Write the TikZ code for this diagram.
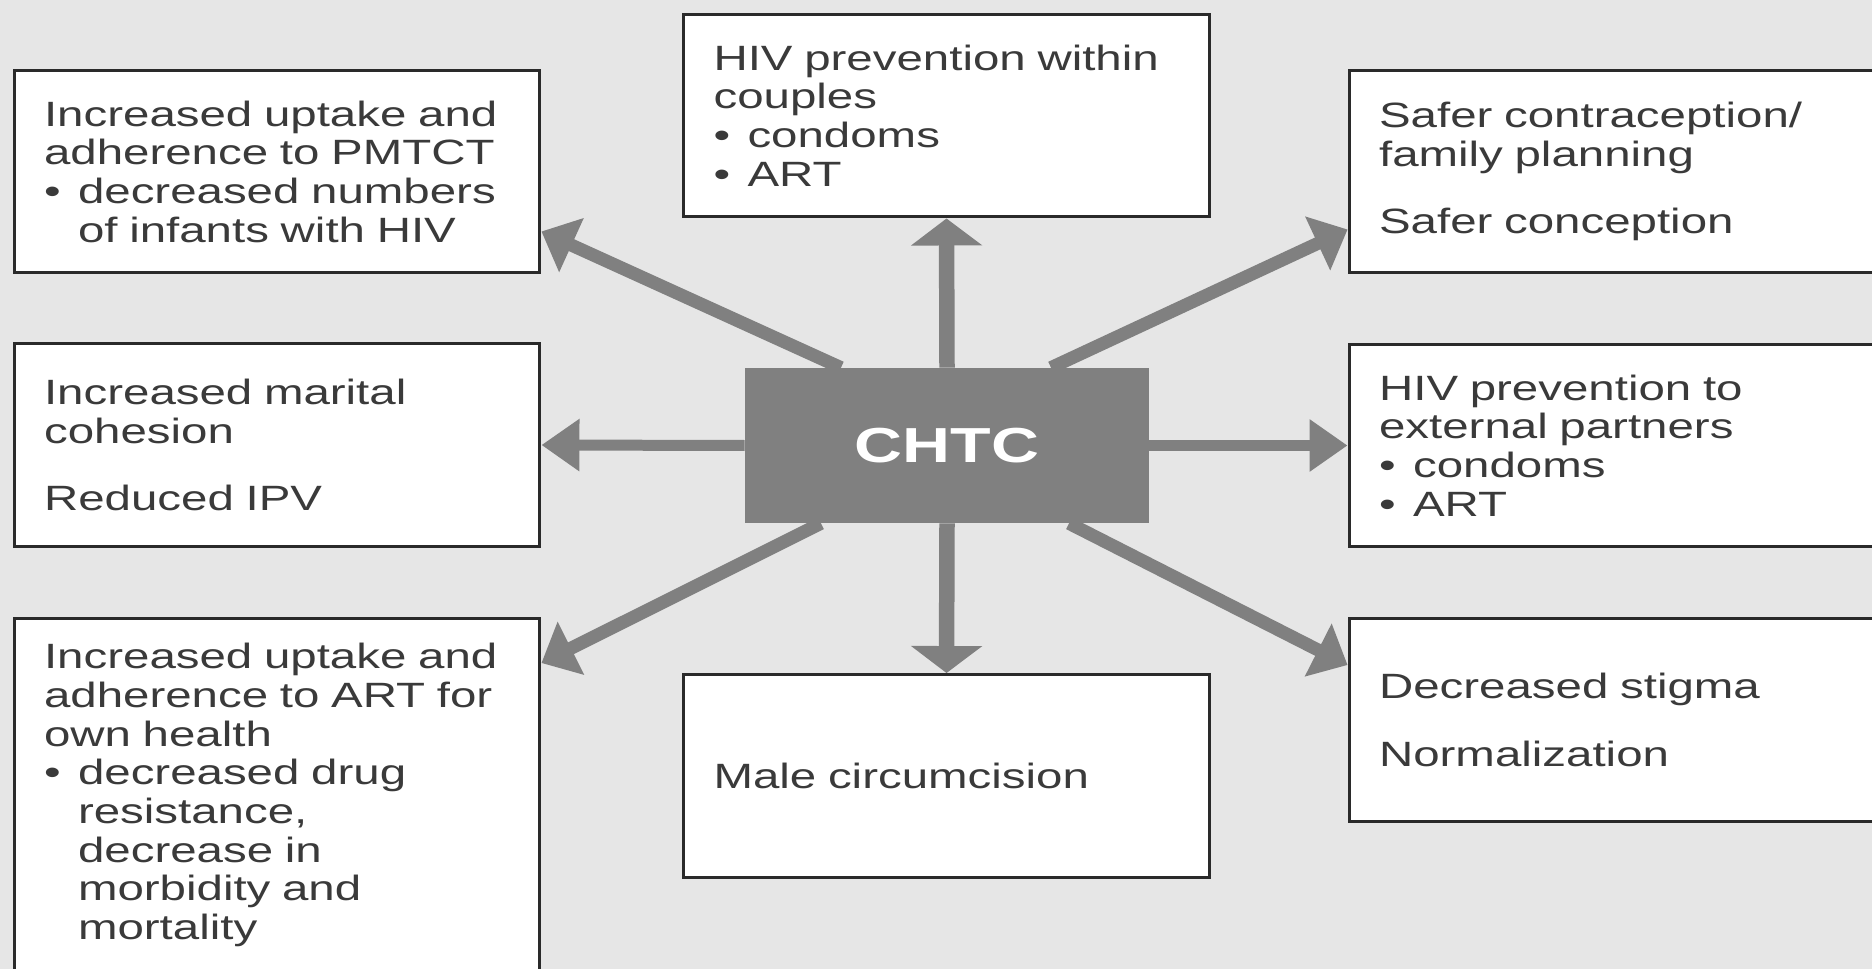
\documentclass[tikz,border=0pt]{standalone}
\usepackage{fontspec}
\setmainfont{Liberation Sans}[FakeStretch=1.35]
\usepackage{tikz}
\usetikzlibrary{arrows.meta, calc}
\definecolor{bggrey}{HTML}{E6E6E6}
\definecolor{hubgrey}{HTML}{808080}
\definecolor{textgrey}{HTML}{3A3A3A}
\definecolor{edgegrey}{HTML}{2A2A2A}
\tikzstyle{outcome} = [rectangle, draw=edgegrey, line width=0.06cm, fill=white, text=textgrey, text width=9.32cm, inner xsep=0.6cm, inner ysep=0pt, minimum height=4.06cm, align=left, font=\fontsize{20}{22}\selectfont]
\tikzstyle{hub} = [rectangle, fill=hubgrey, text=white, minimum width=8.08cm, minimum height=3.1cm, font=\fontsize{28}{30}\selectfont\bfseries]
\tikzstyle{harrow} = [draw=hubgrey, line width=0.22cm, -{Triangle[length=0.76cm, width=1.0cm]}]
\tikzstyle{varrow} = [draw=hubgrey, line width=0.31cm, -{Triangle[length=0.54cm, width=1.4cm]}]
\tikzstyle{darrow} = [draw=hubgrey, line width=0.26cm, -{Triangle[length=0.66cm, width=1.15cm]}]
\newcommand{\bul}{\makebox[0.68cm][l]{\textbullet}}
\newcommand{\ind}{\hspace*{0.68cm}}

\begin{document}
\begin{tikzpicture}[x=0.02cm, y=-0.02cm]

\useasboundingbox (0,0) rectangle (1872,969);
\clip (0,0) rectangle (1872,969);
\fill[bggrey] (0,0) rectangle (1872,969);

\node (chtc) [hub] at (947,445.5) {CHTC};

\node (pmtct) [outcome] at (277,171.5) {Increased uptake and\\ adherence to PMTCT\\ \bul decreased numbers\\ \ind of infants with HIV};
\node (couples) [outcome] at (946.5,115.5) {HIV prevention within\\ couples\\ \bul condoms\\ \bul ART};
\node (contra) [outcome] at (1612,171.5) {Safer contraception/\\ family planning\\[0.58cm] Safer conception};
\node (marital) [outcome] at (277,445) {Increased marital\\ cohesion\\[0.58cm] Reduced IPV};
\node (external) [outcome] at (1612,445.5) {HIV prevention to\\ external partners\\ \bul condoms\\ \bul ART};
\node (ownhealth) [outcome, minimum height=7.08cm] at (277,795) {Increased uptake and\\ adherence to ART for\\ own health\\ \bul decreased drug\\ \ind resistance,\\ \ind decrease in\\ \ind morbidity and\\ \ind mortality};
\node (circum) [outcome] at (946.5,776) {Male circumcision};
\node (stigma) [outcome] at (1612,720) {Decreased stigma\\[0.58cm] Normalization};

% diagonal arrow ends
\coordinate (nwstart) at ($(chtc.north)+(-106,0)$);
\coordinate (nestart) at ($(chtc.north)+(104,0)$);
\coordinate (swstart) at ($(chtc.south)+(-126,0)$);
\coordinate (sestart) at ($(chtc.south)+(122,0)$);
\coordinate (nwend) at ($(pmtct.east)+(0,60)$);
\coordinate (neend) at ($(contra.west)+(0,58)$);
\coordinate (swend) at ($(ownhealth.south east |- 0,0)+(0,663)$);
\coordinate (seend) at ($(stigma.west)+(0,-55)$);

\draw [varrow] (chtc.north) -- (couples.south);
\draw [varrow] (chtc.south) -- (circum.north);
\draw [harrow] (chtc.west) -- (marital.east);
\draw [harrow] (chtc.east) -- (external.west);
\draw [darrow] (nwstart) -- (nwend);
\draw [darrow] (nestart) -- (neend);
\draw [darrow] (swstart) -- (swend);
\draw [darrow] (sestart) -- (seend);

\end{tikzpicture}
\end{document}
